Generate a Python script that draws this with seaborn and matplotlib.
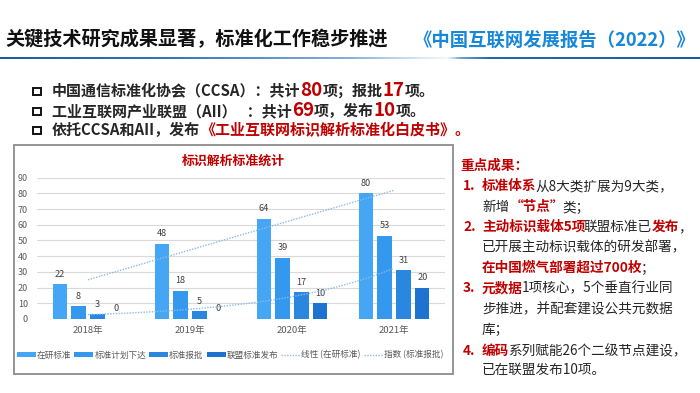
import numpy as np
import pandas as pd
import matplotlib
matplotlib.use("Agg")
import matplotlib.pyplot as plt
import seaborn as sns
from matplotlib.patches import Patch, Rectangle
from matplotlib.lines import Line2D
from matplotlib.colors import LinearSegmentedColormap

# ---------------- data ----------------
years = ["2018年", "2019年", "2020年", "2021年"]
series = ["在研标准", "标准计划下达", "标准报批", "联盟标准发布"]
zaiyan = [22, 48, 64, 80]
jihua = [8, 18, 39, 53]
baopi = [3, 5, 17, 31]
lianmeng = [0, 0, 10, 20]
trend_labels = ["线性 (在研标准)", "指数 (标准报批)"]
yticks = [0, 10, 20, 30, 40, 50, 60, 70, 80, 90]

colors = ["#44A6F4", "#3398EE", "#2987E0", "#1D73CF"]
RED = "#C00000"
DARK = "#262626"

sns.set_theme(style="white")
plt.rcParams["font.family"] = ["Noto Sans CJK SC", "DejaVu Sans"]

W, H = 700, 393
fig = plt.figure(figsize=(W / 100, H / 100), dpi=100)
fig.patch.set_facecolor("white")


def fx(x):
    return x / W


def fy(y):
    return 1 - y / H


renderer = fig.canvas.get_renderer()


def rich(x, y, parts, size=10, weight="bold"):
    cx = x
    for txt, col, sz in parts:
        t = fig.text(fx(cx), fy(y), txt, color=col, fontsize=sz or size,
                     fontweight=weight, va="baseline", ha="left")
        cx += t.get_window_extent(renderer=renderer).width
    return cx


# ---------------- header ----------------
fig.text(fx(5), fy(40), "关键技术研究成果显著，标准化工作稳步推进", fontsize=13.8,
         fontweight="bold", color="#111111", va="center", ha="left")
fig.text(fx(414), fy(40), "《中国互联网发展报告（2022）》", fontsize=13.2,
         fontweight="bold", color="#1787D8", va="center", ha="left")

# gradient rule
gax = fig.add_axes([0, fy(59.5), 1, 2.6 / H])
gax.set_axis_off()
cmap = LinearSegmentedColormap.from_list(
    "g", [(0, "#1A5CA3"), (0.25, "#3577BE"), (0.5, "#86B1DE"),
          (0.6, "#D6E6F5"), (0.64, "#F2F7FC"), (0.66, "#6E9FD2"),
          (0.7, "#2767AE"), (1, "#1A5CA3")])
gax.imshow(np.linspace(0, 1, 700)[None, :], aspect="auto", cmap=cmap,
           extent=[0, 1, 0, 1])

# ---------------- bullet lines ----------------
bul_y = [96, 116, 135]
for by in bul_y:
    fig.patches.append(Rectangle((fx(33), fy(by - 1)), 7.5 / W, 7.5 / H,
                                 transform=fig.transFigure, fill=False,
                                 edgecolor="#111111", linewidth=1.4))
BS = 10.8
rich(52, bul_y[0], [("中国通信标准化协会（CCSA）：共计", DARK, None),
                    ("80", RED, 13.5), ("项；报批", DARK, None),
                    ("17", RED, 13.5), ("项。", DARK, None)], size=BS)
rich(52, bul_y[1], [("工业互联网产业联盟（AII）   ：共计", DARK, None),
                    ("69", RED, 13.5), ("项，发布", DARK, None),
                    ("10", RED, 13.5), ("项。", DARK, None)], size=BS)
rich(52, bul_y[2], [("依托CCSA和AII，发布", DARK, None),
                    ("《工业互联网标识解析标准化白皮书》。", RED, None)], size=BS)

# ---------------- chart frame ----------------
fig.patches.append(Rectangle((fx(14), fy(374)), 439 / W, 229 / H,
                             transform=fig.transFigure, fill=False,
                             edgecolor="#8C8C8C", linewidth=1.3))

# ---------------- chart ----------------
ax = fig.add_axes([fx(37), fy(319), 408 / W, 141.3 / H])
df = pd.DataFrame({
    "year": years * 4,
    "series": [s for s in series for _ in years],
    "value": zaiyan + jihua + baopi + lianmeng,
})
sns.barplot(data=df, x="year", y="value", hue="series", palette=colors,
            width=0.74, gap=0.25, saturation=1, ax=ax, legend=False,
            edgecolor="none")
for c in ax.containers:
    ax.bar_label(c, padding=4, fontsize=6.6, color="#404040")

xi = np.arange(len(years))
lin = np.polyfit(xi, zaiyan, 1)
tcol = "#8EBCE6"
ax.plot(xi, np.polyval(lin, xi), ls=(0, (1, 1)), color=tcol, lw=1.0, zorder=5)
ex = np.polyfit(xi, np.log(baopi), 1)
xs = np.linspace(0, 3, 60)
ax.plot(xs, np.exp(np.polyval(ex, xs)), ls=(0, (1, 1)), color=tcol, lw=1.0,
        zorder=5)

ax.set_ylim(0, 90)
ax.set_xlim(-0.5, 3.5)
ax.set_yticks(yticks)
ax.yaxis.grid(True, color="#D9D9D9", lw=0.8)
ax.set_axisbelow(True)
for s in ax.spines.values():
    s.set_visible(False)
ax.tick_params(axis="y", length=0, pad=6.5, labelsize=6.5, labelcolor="#595959")
ax.tick_params(axis="x", length=0, pad=5, labelsize=6.8, labelcolor="#595959")
ax.set_xlabel("")
ax.set_ylabel("")
ax.set_facecolor("none")

fig.text(fx(233), fy(161), "标识解析标准统计", fontsize=9.3, fontweight="bold",
         color=RED, ha="center", va="center")

handles = [Patch(facecolor=c, edgecolor="none") for c in colors] + \
          [Line2D([0], [0], ls=(0, (1, 1)), color=tcol, lw=1.0)] * 2
labels = series + trend_labels
leg = fig.legend(handles, labels, loc="center left",
                 bbox_to_anchor=(fx(17), fy(355)), ncol=6, frameon=False,
                 fontsize=6.2, handlelength=2.2, handleheight=0.6,
                 handletextpad=0.12, columnspacing=0.35, borderpad=0,
                 borderaxespad=0)
for t in leg.get_texts():
    t.set_color("#595959")

# ---------------- right panel ----------------
fs = 9.8
fig.text(fx(460), fy(170), "重点成果：", fontsize=fs, fontweight="bold",
         color=RED, va="baseline", ha="left", style="italic")
rows = [
    (190, "1.", [("标准体系", RED), ("从8大类扩展为9大类，", DARK)]),
    (211, None, [("新增", DARK), ("“节点”", RED), ("类；", DARK)]),
    (231, "2.", [("主动标识载体5项", RED), ("联盟标准已", DARK), ("发布", RED), ("，", DARK)]),
    (251, None, [("已开展主动标识载体的研发部署，", DARK)]),
    (272, None, [("在中国燃气部署超过700枚", RED), ("；", DARK)]),
    (292, "3.", [("元数据", RED), ("1项核心，5个垂直行业同", DARK)]),
    (313, None, [("步推进，并配套建设公共元数据", DARK)]),
    (334, None, [("库；", DARK)]),
    (355, "4.", [("编码", RED), ("系列赋能26个二级节点建设，", DARK)]),
    (374, None, [("已在联盟发布10项。", DARK)]),
]
for y, num, parts in rows:
    if num:
        fig.text(fx(463), fy(y), num, fontsize=fs, fontweight="bold",
                 color=RED, va="baseline", ha="left")
    cx = 482
    for txt, col in parts:
        t = fig.text(fx(cx), fy(y), txt, fontsize=fs,
                     fontweight="bold" if col == RED else "normal",
                     color=col, va="baseline", ha="left")
        cx += t.get_window_extent(renderer=renderer).width - (1.5 if col == RED else 0)

fig.savefig("out.png", dpi=100)
